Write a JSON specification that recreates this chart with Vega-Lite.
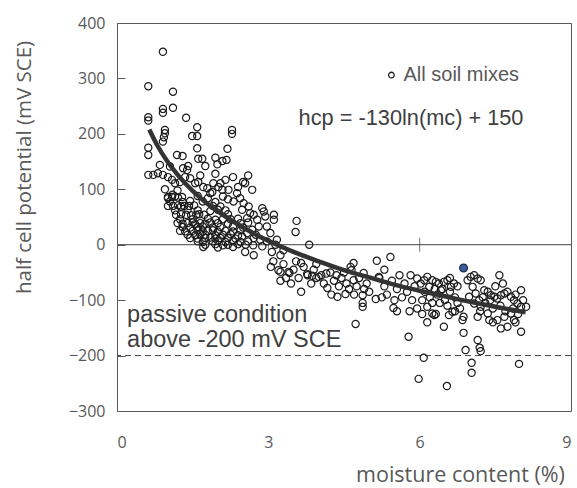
{
  "$schema": "https://vega.github.io/schema/vega-lite/v6.json",
  "width": 454,
  "height": 388,
  "autosize": {"type": "none"},
  "padding": {"left": 117, "top": 23, "right": 6, "bottom": 77},
  "background": "white",
  "config": {
    "view": {"stroke": "#595959", "strokeWidth": 1},
    "axis": {"grid": false, "labelFont": "Open Sans", "titleFont": "Open Sans", "labelColor": "#595959", "titleColor": "#595959", "labelFontSize": 16, "titleFontSize": 20.5, "titleFontWeight": "normal"}
  },
  "datasets": {
    "pts": [
      {"mc":0.62,"hcp":286},{"mc":0.91,"hcp":348},{"mc":1.11,"hcp":276},{"mc":0.91,"hcp":245},{"mc":0.91,"hcp":238},{"mc":1.11,"hcp":247},{"mc":1.37,"hcp":229},{"mc":0.62,"hcp":230},{"mc":0.62,"hcp":224},{"mc":1.59,"hcp":212},{"mc":1.59,"hcp":196},{"mc":1.49,"hcp":196},{"mc":0.95,"hcp":207},{"mc":0.95,"hcp":201},{"mc":0.93,"hcp":194},{"mc":0.91,"hcp":186},{"mc":2.28,"hcp":207},{"mc":2.28,"hcp":200},{"mc":0.62,"hcp":175},{"mc":0.62,"hcp":162},{"mc":1.19,"hcp":162},{"mc":1.59,"hcp":174},{"mc":1.61,"hcp":155},{"mc":1.69,"hcp":155},{"mc":2.19,"hcp":173},{"mc":1.95,"hcp":157},{"mc":1.99,"hcp":145},{"mc":2.09,"hcp":151},{"mc":2.17,"hcp":153},{"mc":0.85,"hcp":144},{"mc":1.41,"hcp":142},{"mc":1.3,"hcp":160},{"mc":1.75,"hcp":142},{"mc":1.05,"hcp":141},
      {"mc":0.62,"hcp":126},{"mc":0.72,"hcp":126},{"mc":0.81,"hcp":129},{"mc":0.91,"hcp":126},{"mc":1.01,"hcp":122},{"mc":1.09,"hcp":117},{"mc":1.15,"hcp":111},{"mc":1.25,"hcp":113},{"mc":1.35,"hcp":122},{"mc":1.39,"hcp":135},{"mc":1.31,"hcp":138},{"mc":1.45,"hcp":120},{"mc":1.55,"hcp":111},{"mc":1.61,"hcp":113},{"mc":1.71,"hcp":104},{"mc":1.79,"hcp":102},{"mc":1.85,"hcp":93},{"mc":1.91,"hcp":111},{"mc":2.01,"hcp":104},{"mc":2.09,"hcp":99},{"mc":2.15,"hcp":117},{"mc":2.3,"hcp":122},{"mc":2.4,"hcp":104},{"mc":2.5,"hcp":113},{"mc":2.54,"hcp":111},{"mc":2.68,"hcp":99},{"mc":2.05,"hcp":111},{"mc":1.89,"hcp":95},{"mc":2.38,"hcp":93},{"mc":2.44,"hcp":84},{"mc":2.21,"hcp":99},{"mc":1.01,"hcp":84},{"mc":1.1,"hcp":90},{"mc":1.2,"hcp":98},{"mc":0.95,"hcp":100},{"mc":1.65,"hcp":125},{"mc":1.95,"hcp":128},{"mc":2.6,"hcp":125},
      {"mc":1.01,"hcp":86},{"mc":1.09,"hcp":86},{"mc":1.15,"hcp":87},{"mc":1.21,"hcp":85},{"mc":1.29,"hcp":86},{"mc":1.6,"hcp":88},{"mc":1.8,"hcp":84},{"mc":2.1,"hcp":87},{"mc":2.2,"hcp":82},
      {"mc":1.05,"hcp":78},{"mc":1.3,"hcp":77},{"mc":1.45,"hcp":79},{"mc":1.7,"hcp":78},{"mc":1.95,"hcp":77},{"mc":2.31,"hcp":78},{"mc":2.51,"hcp":75},
      {"mc":1.01,"hcp":70},{"mc":1.11,"hcp":70},{"mc":1.21,"hcp":71},{"mc":1.27,"hcp":69},{"mc":1.33,"hcp":70},{"mc":1.43,"hcp":70},{"mc":1.53,"hcp":71},{"mc":1.9,"hcp":70},{"mc":2.05,"hcp":69},{"mc":2.61,"hcp":69},
      {"mc":1.15,"hcp":62},{"mc":1.4,"hcp":63},{"mc":1.6,"hcp":62},{"mc":1.85,"hcp":61},{"mc":2.0,"hcp":63},{"mc":2.15,"hcp":62},{"mc":2.48,"hcp":63},{"mc":2.88,"hcp":66},{"mc":2.91,"hcp":60},
      {"mc":1.17,"hcp":54},{"mc":1.27,"hcp":55},{"mc":1.37,"hcp":54},{"mc":1.47,"hcp":53},{"mc":1.57,"hcp":54},{"mc":1.63,"hcp":55},{"mc":1.73,"hcp":54},{"mc":2.64,"hcp":57},{"mc":2.71,"hcp":54},{"mc":3.11,"hcp":54},{"mc":2.2,"hcp":55},
      {"mc":1.25,"hcp":46},{"mc":1.5,"hcp":46},{"mc":1.8,"hcp":47},{"mc":1.95,"hcp":45},{"mc":2.1,"hcp":46},{"mc":2.25,"hcp":46},{"mc":2.4,"hcp":47},{"mc":2.58,"hcp":48},{"mc":2.78,"hcp":45},{"mc":2.94,"hcp":51},{"mc":3.11,"hcp":45},
      {"mc":1.2,"hcp":39},{"mc":1.3,"hcp":38},{"mc":1.4,"hcp":39},{"mc":1.5,"hcp":40},{"mc":1.55,"hcp":37},{"mc":1.65,"hcp":39},{"mc":1.75,"hcp":38},{"mc":1.85,"hcp":40},{"mc":2.0,"hcp":39},{"mc":2.2,"hcp":38},{"mc":2.45,"hcp":39},{"mc":2.6,"hcp":40},
      {"mc":1.3,"hcp":32},{"mc":1.45,"hcp":31},{"mc":1.6,"hcp":32},{"mc":1.7,"hcp":33},{"mc":1.9,"hcp":31},{"mc":2.05,"hcp":32},{"mc":2.3,"hcp":33},{"mc":2.5,"hcp":31},{"mc":2.68,"hcp":27},{"mc":2.81,"hcp":33},{"mc":2.97,"hcp":33},
      {"mc":1.25,"hcp":25},{"mc":1.35,"hcp":24},{"mc":1.5,"hcp":25},{"mc":1.6,"hcp":26},{"mc":1.7,"hcp":24},{"mc":1.8,"hcp":25},{"mc":1.9,"hcp":26},{"mc":2.0,"hcp":24},{"mc":2.15,"hcp":25},{"mc":2.3,"hcp":24},{"mc":2.45,"hcp":26},
      {"mc":1.4,"hcp":18},{"mc":1.55,"hcp":17},{"mc":1.65,"hcp":19},{"mc":1.75,"hcp":18},{"mc":1.95,"hcp":17},{"mc":2.1,"hcp":18},{"mc":2.25,"hcp":19},{"mc":2.4,"hcp":17},{"mc":2.58,"hcp":21},{"mc":2.75,"hcp":18},{"mc":3.04,"hcp":21},
      {"mc":1.45,"hcp":12},{"mc":1.6,"hcp":11},{"mc":1.75,"hcp":12},{"mc":1.85,"hcp":13},{"mc":1.95,"hcp":11},{"mc":2.05,"hcp":12},{"mc":2.2,"hcp":12},{"mc":2.35,"hcp":11},{"mc":2.48,"hcp":15},{"mc":2.71,"hcp":12},{"mc":2.84,"hcp":9},
      {"mc":1.6,"hcp":6},{"mc":1.7,"hcp":5},{"mc":1.9,"hcp":6},{"mc":2.0,"hcp":7},{"mc":2.15,"hcp":5},{"mc":2.3,"hcp":6},{"mc":2.45,"hcp":5},{"mc":2.6,"hcp":6},{"mc":2.97,"hcp":6},{"mc":3.17,"hcp":9},
      {"mc":1.75,"hcp":0},{"mc":1.95,"hcp":1},{"mc":2.1,"hcp":-1},{"mc":2.2,"hcp":0},{"mc":2.4,"hcp":1},{"mc":2.55,"hcp":0},{"mc":2.7,"hcp":-1},{"mc":3.14,"hcp":0},
      {"mc":1.71,"hcp":-4},{"mc":2.0,"hcp":-5},{"mc":2.3,"hcp":-4},{"mc":2.88,"hcp":-3},{"mc":2.54,"hcp":-13},{"mc":3.07,"hcp":-13},{"mc":2.71,"hcp":-19},{"mc":3.24,"hcp":-19},{"mc":3.3,"hcp":-10},
      {"mc":3.56,"hcp":43},{"mc":3.54,"hcp":23},{"mc":3.81,"hcp":0},{"mc":3.65,"hcp":-33},{"mc":3.4,"hcp":-49},{"mc":3.24,"hcp":-49},{"mc":3.77,"hcp":-53},{"mc":3.87,"hcp":-56},{"mc":3.95,"hcp":-60},{"mc":4.0,"hcp":-58},{"mc":4.05,"hcp":-55},{"mc":4.15,"hcp":-52},{"mc":4.23,"hcp":-50},{"mc":3.65,"hcp":-85},{"mc":4.17,"hcp":-78},{"mc":4.37,"hcp":-94},{"mc":4.53,"hcp":-89},{"mc":4.63,"hcp":-40},{"mc":4.65,"hcp":-46},{"mc":4.69,"hcp":-33},{"mc":4.89,"hcp":-51},{"mc":4.69,"hcp":-64},{"mc":4.87,"hcp":-91},{"mc":4.87,"hcp":-105},{"mc":4.87,"hcp":-112},{"mc":4.73,"hcp":-143},{"mc":5.13,"hcp":-98},{"mc":5.15,"hcp":-29},{"mc":5.42,"hcp":-22},{"mc":5.19,"hcp":-58},{"mc":3.2,"hcp":-46},{"mc":3.24,"hcp":-65},{"mc":3.42,"hcp":-51},{"mc":3.1,"hcp":-30},{"mc":3.05,"hcp":-40},{"mc":3.3,"hcp":-35},{"mc":3.35,"hcp":-60},{"mc":3.5,"hcp":-45},{"mc":3.6,"hcp":-60},{"mc":3.7,"hcp":-40},{"mc":3.85,"hcp":-70},{"mc":3.9,"hcp":-45},{"mc":3.45,"hcp":-70},{"mc":3.55,"hcp":-30},{"mc":3.95,"hcp":-35},{"mc":3.78,"hcp":-55},
      {"mc":4.1,"hcp":-70},{"mc":4.3,"hcp":-65},{"mc":4.4,"hcp":-75},{"mc":4.45,"hcp":-60},{"mc":4.55,"hcp":-70},{"mc":4.6,"hcp":-80},{"mc":4.75,"hcp":-75},{"mc":4.8,"hcp":-60},{"mc":4.95,"hcp":-70},{"mc":5.0,"hcp":-85},{"mc":4.25,"hcp":-90},{"mc":4.9,"hcp":-80},{"mc":4.5,"hcp":-50},{"mc":4.7,"hcp":-90},{"mc":4.35,"hcp":-55},
      {"mc":5.2,"hcp":-60},{"mc":5.3,"hcp":-75},{"mc":5.35,"hcp":-90},{"mc":5.45,"hcp":-65},{"mc":5.5,"hcp":-100},{"mc":5.55,"hcp":-80},{"mc":5.6,"hcp":-55},{"mc":5.65,"hcp":-95},{"mc":5.7,"hcp":-70},{"mc":5.75,"hcp":-85},{"mc":5.85,"hcp":-100},{"mc":5.9,"hcp":-75},{"mc":5.95,"hcp":-115},{"mc":5.48,"hcp":-114},{"mc":5.3,"hcp":-45},{"mc":5.55,"hcp":-120},{"mc":5.8,"hcp":-120},{"mc":5.25,"hcp":-95},{"mc":5.82,"hcp":-55},{"mc":5.95,"hcp":-61},{"mc":5.78,"hcp":-166},{"mc":6.08,"hcp":-204},{"mc":5.98,"hcp":-242},
      {"mc":6.02,"hcp":-70},{"mc":6.09,"hcp":-64},{"mc":6.15,"hcp":-58},{"mc":6.19,"hcp":-76},{"mc":6.25,"hcp":-64},{"mc":6.32,"hcp":-67},{"mc":6.38,"hcp":-70},{"mc":6.42,"hcp":-82},{"mc":6.48,"hcp":-67},{"mc":6.55,"hcp":-64},{"mc":6.62,"hcp":-76},{"mc":6.68,"hcp":-70},{"mc":6.25,"hcp":-124},{"mc":6.29,"hcp":-127},{"mc":6.32,"hcp":-125},{"mc":6.65,"hcp":-121},{"mc":6.58,"hcp":-127},{"mc":6.15,"hcp":-112},{"mc":6.48,"hcp":-148},{"mc":6.54,"hcp":-255},{"mc":6.87,"hcp":-130},{"mc":6.85,"hcp":-136},{"mc":6.87,"hcp":-159},{"mc":6.91,"hcp":-190},
      {"mc":6.1,"hcp":-85},{"mc":6.2,"hcp":-95},{"mc":6.35,"hcp":-90},{"mc":6.5,"hcp":-100},{"mc":6.6,"hcp":-85},{"mc":6.7,"hcp":-95},{"mc":6.75,"hcp":-105},{"mc":6.4,"hcp":-105},{"mc":6.55,"hcp":-110},{"mc":6.05,"hcp":-100},{"mc":6.3,"hcp":-80},{"mc":6.6,"hcp":-60},{"mc":6.75,"hcp":-75},{"mc":6.8,"hcp":-115},{"mc":6.05,"hcp":-125},{"mc":6.15,"hcp":-140},{"mc":6.45,"hcp":-80},{"mc":6.7,"hcp":-120},{"mc":6.25,"hcp":-105},
      {"mc":7.03,"hcp":-213},{"mc":7.03,"hcp":-231},{"mc":7.15,"hcp":-172},{"mc":7.19,"hcp":-186},{"mc":7.21,"hcp":-192},{"mc":6.95,"hcp":-64},{"mc":7.01,"hcp":-58},{"mc":7.08,"hcp":-55},{"mc":7.15,"hcp":-61},{"mc":7.21,"hcp":-64},{"mc":7.05,"hcp":-76},{"mc":7.11,"hcp":-88},{"mc":7.18,"hcp":-100},{"mc":6.98,"hcp":-94},{"mc":7.08,"hcp":-106},{"mc":7.21,"hcp":-112},{"mc":7.15,"hcp":-130},{"mc":7.35,"hcp":-124},{"mc":7.38,"hcp":-136},{"mc":7.28,"hcp":-82},{"mc":7.35,"hcp":-85},{"mc":7.41,"hcp":-91},{"mc":7.48,"hcp":-94},{"mc":7.54,"hcp":-97},{"mc":7.61,"hcp":-91},{"mc":7.68,"hcp":-88},{"mc":7.74,"hcp":-85},{"mc":7.81,"hcp":-94},{"mc":7.87,"hcp":-100},{"mc":7.94,"hcp":-106},{"mc":8.01,"hcp":-112},{"mc":8.11,"hcp":-112},{"mc":8.01,"hcp":-82},{"mc":7.58,"hcp":-55},{"mc":7.61,"hcp":-151},{"mc":7.74,"hcp":-148},{"mc":8.01,"hcp":-157},{"mc":7.54,"hcp":-136},{"mc":7.68,"hcp":-130},{"mc":7.81,"hcp":-124},{"mc":7.87,"hcp":-136},{"mc":7.97,"hcp":-215},
      {"mc":7.3,"hcp":-105},{"mc":7.45,"hcp":-115},{"mc":7.6,"hcp":-110},{"mc":7.7,"hcp":-120},{"mc":7.9,"hcp":-90},{"mc":7.95,"hcp":-125},{"mc":8.05,"hcp":-100},{"mc":7.5,"hcp":-75},{"mc":7.25,"hcp":-95},{"mc":7.4,"hcp":-100},{"mc":7.65,"hcp":-70},{"mc":7.85,"hcp":-115},{"mc":7.2,"hcp":-120},{"mc":7.45,"hcp":-140},{"mc":7.9,"hcp":-140}
    ],
    "fit": [
      {"mc":0.64,"hcp":208},{"mc":0.8,"hcp":179},{"mc":1.0,"hcp":150},{"mc":1.25,"hcp":121},{"mc":1.5,"hcp":97},{"mc":1.75,"hcp":77},{"mc":2.0,"hcp":60},{"mc":2.5,"hcp":31},{"mc":3.0,"hcp":7},{"mc":3.5,"hcp":-13},{"mc":4.0,"hcp":-30},{"mc":4.5,"hcp":-46},{"mc":5.0,"hcp":-59},{"mc":5.5,"hcp":-72},{"mc":6.0,"hcp":-83},{"mc":6.5,"hcp":-93},{"mc":7.0,"hcp":-103},{"mc":7.5,"hcp":-112},{"mc":8.1,"hcp":-122}
    ]
  },
  "encoding": {
    "x": {"field": "mc", "type": "quantitative", "scale": {"domain": [0, 9], "nice": false},
      "axis": {"values": [0,3,6,9], "title": "moisture content (%)", "titleFontSize": 21.5, "domain": false, "ticks": false, "labelPadding": 23, "titleX": 343, "titleY": 64, "titleAlign": "center", "titleBaseline": "middle"}},
    "y": {"field": "hcp", "type": "quantitative", "scale": {"domain": [-300, 400], "nice": false},
      "axis": {"values": [-300,-200,-100,0,100,200,300,400], "title": "half cell potential (mV SCE)", "domain": true, "domainColor": "#595959", "ticks": true, "tickColor": "#595959", "tickSize": -8, "labelPadding": 20, "titleX": -93, "titleY": 144, "titleAlign": "center", "titleBaseline": "middle", "titleAngle": 270}}
  },
  "layer": [
    {
      "data": {"values": [{"mc": 0, "hcp": 0}]},
      "mark": {"type": "rule", "color": "#404040", "strokeWidth": 1},
      "encoding": {"x": null}
    },
    {
      "data": {"values": [{"mc": 3, "hcp": 0}, {"mc": 6, "hcp": 0}]},
      "mark": {"type": "tick", "orient": "vertical", "color": "#404040", "thickness": 1, "size": 14}
    },
    {
      "data": {"values": [{"mc": 0, "hcp": -200}]},
      "mark": {"type": "rule", "color": "#404040", "strokeWidth": 1, "strokeDash": [6, 4]},
      "encoding": {"x": null}
    },
    {
      "data": {"name": "pts"},
      "mark": {"type": "point", "shape": "circle", "filled": false, "stroke": "#1a1a1a", "strokeWidth": 1.2, "size": 52, "opacity": 1}
    },
    {
      "data": {"values": [{"mc": 6.87, "hcp": -42}]},
      "mark": {"type": "point", "shape": "circle", "filled": true, "fill": "#3B5C9E", "stroke": "#1F2D4F", "strokeWidth": 1.2, "size": 62, "opacity": 1}
    },
    {
      "data": {"name": "fit"},
      "mark": {"type": "line", "color": "#333333", "strokeWidth": 4.5, "interpolate": "monotone"}
    },
    {
      "data": {"values": [{"mc": 5.44, "hcp": 306}]},
      "mark": {"type": "point", "shape": "circle", "filled": false, "stroke": "#1a1a1a", "strokeWidth": 1.3, "size": 32, "opacity": 1}
    },
    {
      "data": {"values": [
        {"mc": 5.68, "hcp": 306, "label": "All soil mixes", "kind": "legend"},
        {"mc": 3.6, "hcp": 229, "label": "hcp = -130ln(mc) + 150", "kind": "eq"},
        {"mc": 0.2, "hcp": -127, "label": "passive condition", "kind": "note"},
        {"mc": 0.2, "hcp": -172, "label": "above -200 mV SCE", "kind": "note"}
      ]},
      "mark": {"type": "text", "align": "left", "baseline": "middle", "font": "Liberation Sans"},
      "encoding": {
        "text": {"field": "label"},
        "color": {"field": "kind", "type": "nominal", "scale": {"domain": ["legend", "eq", "note"], "range": ["#595959", "#404040", "#404040"]}, "legend": null},
        "size": {"field": "kind", "type": "nominal", "scale": {"domain": ["legend", "eq", "note"], "range": [20, 23.5, 22]}, "legend": null}
      }
    }
  ]
}
